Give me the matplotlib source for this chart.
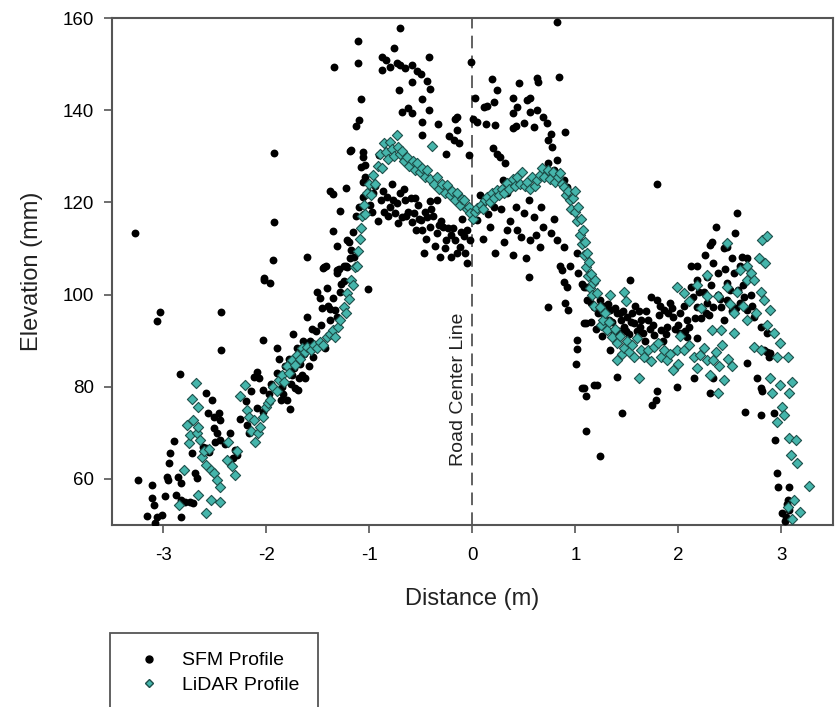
import matplotlib
matplotlib.use("Agg")
import matplotlib.pyplot as plt
from matplotlib.lines import Line2D
from matplotlib.patches import Rectangle

plt.rcParams["font.family"] = ["Liberation Sans", "DejaVu Sans"]
plt.rcParams["axes.unicode_minus"] = False

# SFM profile (black dots)
sfm_x = [
    -3.27, -3.24, -3.16, -3.11, -3.11, -3.09, -3.08, -3.06, -3.06, -3.03,
    -3.01, -2.98, -2.96, -2.95, -2.94, -2.93, -2.90, -2.88, -2.86, -2.84,
    -2.83, -2.83, -2.83, -2.79, -2.74, -2.72, -2.71, -2.69, -2.67, -2.61,
    -2.58, -2.58, -2.57, -2.56, -2.53, -2.51, -2.51, -2.50, -2.48, -2.46,
    -2.45, -2.45, -2.44, -2.44, -2.40, -2.35, -2.32, -2.30, -2.28, -2.25,
    -2.20, -2.19, -2.17, -2.15, -2.12, -2.09, -2.09, -2.07, -2.03, -2.03,
    -2.03, -2.02, -2.02, -2.00, -1.96, -1.95, -1.93, -1.92, -1.92, -1.90,
    -1.90, -1.86, -1.85, -1.82, -1.80, -1.78, -1.77, -1.75, -1.74, -1.72,
    -1.70, -1.69, -1.67, -1.65, -1.63, -1.62, -1.60, -1.60, -1.58, -1.55,
    -1.52, -1.51, -1.48, -1.47, -1.45, -1.44, -1.43, -1.42, -1.40, -1.38,
    -1.38, -1.38, -1.35, -1.35, -1.35, -1.34, -1.33, -1.31, -1.31, -1.31,
    -1.31, -1.29, -1.28, -1.28, -1.27, -1.25, -1.25, -1.23, -1.23, -1.22,
    -1.22, -1.20, -1.19, -1.19, -1.18, -1.18, -1.16, -1.15, -1.13, -1.13,
    -1.11, -1.11, -1.10, -1.10, -1.08, -1.08, -1.06, -1.06, -1.06, -1.06,
    -1.04, -1.04, -1.01, -1.01, -0.99, -0.96, -0.94, -0.91, -0.89, -0.88,
    -0.88, -0.86, -0.84, -0.83, -0.80, -0.80, -0.78, -0.76, -0.75, -0.73,
    -0.73, -0.71, -0.70, -0.70, -0.70, -0.68, -0.68, -0.66, -0.65, -0.65,
    -0.62, -0.62, -0.60, -0.59, -0.59, -0.59, -0.59, -0.57, -0.55, -0.54,
    -0.53, -0.50, -0.50, -0.49, -0.49, -0.49, -0.49, -0.47, -0.46, -0.44,
    -0.44, -0.42, -0.42, -0.41, -0.41, -0.41, -0.38, -0.34, -0.34, -0.33,
    -0.31, -0.30, -0.28, -0.26, -0.26, -0.24, -0.23, -0.21, -0.21, -0.18,
    -0.17, -0.17, -0.15, -0.15, -0.15, -0.13, -0.12, -0.10, -0.08, -0.05,
    -0.05, -0.03, -0.02, -0.01, 0.01, 0.01, 0.03, 0.05, 0.05, 0.07,
    0.10, 0.11, 0.13, 0.14, 0.15, 0.17, 0.19, 0.20, 0.21, 0.21,
    0.22, 0.22, 0.24, 0.24, 0.27, 0.28, 0.30, 0.31, 0.32, 0.34,
    0.34, 0.37, 0.39, 0.39, 0.39, 0.39, 0.42, 0.42, 0.43, 0.43,
    0.45, 0.47, 0.50, 0.50, 0.52, 0.53, 0.55, 0.55, 0.56, 0.56,
    0.56, 0.60, 0.60, 0.62, 0.63, 0.63, 0.64, 0.66, 0.67, 0.69,
    0.69, 0.72, 0.73, 0.73, 0.73, 0.76, 0.76, 0.77, 0.79, 0.79,
    0.82, 0.82, 0.82, 0.84, 0.85, 0.85, 0.87, 0.89, 0.89, 0.89,
    0.90, 0.90, 0.92, 0.92, 0.93, 0.95, 1.01, 1.02, 1.02, 1.02,
    1.03, 1.06, 1.06, 1.08, 1.08, 1.08, 1.10, 1.10, 1.10, 1.10,
    1.11, 1.15, 1.15, 1.18, 1.18, 1.21, 1.22, 1.24, 1.24, 1.26,
    1.27, 1.30, 1.32, 1.34, 1.34, 1.36, 1.37, 1.40, 1.40, 1.42,
    1.44, 1.45, 1.46, 1.47, 1.50, 1.52, 1.53, 1.55, 1.57, 1.60,
    1.62, 1.63, 1.66, 1.68, 1.70, 1.72, 1.73, 1.74, 1.76, 1.78,
    1.79, 1.79, 1.79, 1.81, 1.83, 1.85, 1.86, 1.89, 1.90, 1.92,
    1.95, 1.97, 1.99, 2.02, 2.02, 2.05, 2.08, 2.08, 2.10, 2.12,
    2.12, 2.14, 2.15, 2.18, 2.18, 2.18, 2.18, 2.22, 2.25, 2.26,
    2.28, 2.28, 2.30, 2.31, 2.31, 2.33, 2.34, 2.34, 2.34, 2.36,
    2.38, 2.38, 2.41, 2.44, 2.44, 2.47, 2.47, 2.47, 2.50, 2.52,
    2.54, 2.55, 2.56, 2.57, 2.60, 2.60, 2.62, 2.63, 2.65, 2.67,
    2.67, 2.67, 2.70, 2.73, 2.76, 2.80, 2.80, 2.80, 2.81, 2.83,
    2.86, 2.86, 2.88, 2.89, 2.93, 2.94, 2.96, 2.97, 3.01, 3.04,
    3.06, 3.07, 3.07, 3.03, 3.05,
    # extra points in the crowded parts
    -1.97, -1.88, -1.84, -1.76, -1.73, -1.68, -1.64, -1.59, -1.56, -1.50,
    -1.46, -1.41, -0.97, -0.92, -0.87, -0.82, -0.77, -0.72, -0.64, -0.56,
    -0.52, -0.45, -0.40, -0.36, -0.32, -0.27, -0.19, -0.11, -0.07, 1.20,
    1.28, 1.33, 1.38, 1.43, 1.49, 1.54, 1.58, 1.64, 1.69, 1.75,
    1.82, 1.88, 1.94, 2.00, 2.06, 2.16, 2.20, 2.27, 2.32, 2.40,
    2.45, 2.52, 2.58, 2.64, 2.71,
]
sfm_y = [
    113.4, 59.8, 52.0, 58.7, 55.8, 54.4, 50.5, 51.8, 94.3, 96.2,
    52.2, 56.2, 60.5, 59.7, 63.5, 65.6, 68.2, 56.5, 60.5, 82.8,
    59.2, 55.4, 51.8, 55.1, 55.1, 65.7, 54.7, 61.2, 60.1, 67.0,
    66.7, 78.7, 74.4, 65.9, 77.1, 73.5, 71.1, 68.1, 69.9, 74.2,
    72.8, 68.5, 96.2, 88.0, 67.5, 70.0, 64.5, 66.3, 65.2, 73.0,
    77.0, 71.7, 69.9, 79.0, 82.1, 83.3, 75.3, 81.8, 74.6, 79.3,
    90.2, 103.5, 103.2, 75.7, 102.6, 80.5, 107.6, 115.8, 130.7, 88.5,
    83.0, 77.1, 80.0, 84.5, 77.1, 86.0, 75.1, 82.5, 91.4, 79.7,
    88.5, 79.3, 85.0, 82.6, 87.0, 81.9, 95.1, 108.2, 90.0, 86.5,
    92.0, 100.6, 99.2, 93.5, 105.8, 106.0, 88.5, 106.1, 97.5, 96.8,
    94.5, 122.5, 121.8, 99.2, 113.9, 149.4, 96.7, 95.2, 110.5, 105.3,
    104.6, 105.5, 118.1, 100.5, 102.3, 106.1, 103.0, 123.1, 106.3, 111.8,
    106.0, 111.5, 107.9, 131.2, 109.7, 131.4, 113.5, 108.2, 136.6, 117.0,
    155.0, 150.3, 137.9, 119.0, 142.4, 127.7, 131.0, 129.9, 124.5, 121.2,
    128.1, 125.5, 122.3, 101.2, 119.5, 122.0, 123.5, 130.3, 120.5, 151.6,
    148.7, 118.0, 150.9, 121.2, 149.4, 119.1, 124.0, 153.4, 117.6, 150.2,
    119.8, 144.4, 157.8, 149.8, 122.0, 139.7, 116.9, 123.0, 149.1, 120.5,
    140.4, 118.0, 121.0, 149.8, 146.2, 139.3, 115.8, 117.6, 114.0, 148.4,
    119.5, 147.9, 116.2, 142.4, 137.5, 134.6, 114.0, 109.0, 118.0, 146.4,
    116.9, 151.6, 140.0, 144.7, 120.2, 114.7, 117.0, 120.5, 113.3, 137.0,
    108.2, 116.0, 114.7, 130.6, 111.8, 114.5, 134.3, 112.9, 108.2, 133.5,
    138.0, 111.8, 138.6, 135.6, 109.0, 132.8, 110.4, 116.5, 112.6, 114.0,
    106.8, 130.3, 111.8, 150.5, 117.6, 138.2, 142.6, 116.2, 137.5, 121.5,
    112.0, 140.8, 137.0, 140.9, 117.5, 114.7, 146.7, 131.7, 141.8, 119.1,
    136.8, 109.0, 144.4, 130.6, 129.9, 118.5, 124.9, 111.5, 128.5, 122.0,
    114.0, 116.0, 142.6, 139.3, 136.1, 108.6, 136.6, 119.1, 140.8, 114.0,
    145.8, 112.5, 137.2, 117.6, 108.0, 142.2, 120.5, 103.8, 142.6, 139.7,
    111.8, 136.4, 116.9, 113.0, 146.9, 140.0, 146.2, 110.4, 119.0, 138.6,
    114.7, 137.2, 133.5, 128.5, 97.4, 134.9, 113.3, 132.1, 127.0, 116.5,
    129.2, 111.8, 159.2, 147.3, 126.3, 106.1, 105.3, 124.9, 110.4, 102.8,
    135.3, 98.1, 123.4, 101.7, 96.7, 106.1, 84.9, 109.0, 90.2, 88.1,
    104.6, 102.4, 79.7, 101.7, 93.8, 79.7, 101.7, 93.8, 77.9, 70.3,
    98.8, 98.1, 94.1, 97.4, 80.4, 80.4, 96.0, 98.8, 65.0, 91.0,
    95.9, 93.5, 98.0, 96.7, 88.0, 94.0, 91.6, 95.9, 82.2, 92.0,
    94.5, 74.4, 96.5, 93.0, 95.2, 91.5, 103.2, 96.0, 93.8, 92.0,
    96.5, 93.0, 91.6, 90.0, 94.5, 92.5, 99.5, 76.1, 91.2, 77.1,
    98.8, 79.0, 123.9, 95.5, 92.3, 90.0, 96.7, 93.0, 96.0, 98.1,
    95.2, 92.5, 80.0, 95.9, 91.6, 97.5, 94.5, 90.9, 93.0, 101.7,
    106.1, 99.5, 81.8, 103.2, 106.2, 97.4, 90.5, 95.0, 100.5, 108.6,
    103.9, 98.1, 95.5, 110.8, 78.6, 111.5, 106.8, 97.4, 81.8, 114.7,
    104.6, 100.0, 97.4, 110.0, 94.5, 110.4, 102.5, 98.8, 101.0, 107.9,
    104.6, 113.4, 97.0, 117.6, 106.1, 98.1, 108.2, 102.0, 74.6, 107.9,
    96.7, 85.1, 100.0, 95.2, 81.8, 93.0, 79.7, 73.9, 79.0, 88.0,
    91.6, 87.6, 86.5, 87.3, 74.2, 68.5, 61.2, 58.3, 52.6, 51.8,
    55.4, 58.3, 53.3, 50.8, 54.5,
    # extra points in the crowded parts
    78.5, 86.0, 78.5, 80.5, 84.0, 82.0, 90.0, 84.5, 92.5, 89.0,
    97.0, 101.5, 118.0, 116.0, 122.5, 117.0, 120.5, 115.5, 117.0, 121.0,
    116.5, 112.0, 118.5, 110.5, 115.0, 110.0, 114.5, 113.5, 109.0, 92.5,
    97.5, 94.5, 97.0, 96.0, 92.0, 94.0, 97.5, 94.5, 96.5, 93.5,
    97.5, 91.5, 97.0, 93.5, 92.0, 95.0, 100.5, 96.0, 102.0, 99.0,
    105.5, 96.5, 101.0, 99.5, 97.5,
]

# LiDAR profile (teal diamonds)
lidar_x = [
    -2.85, -2.80, -2.77, -2.75, -2.74, -2.72, -2.71, -2.68, -2.67, -2.66,
    -2.66, -2.66, -2.64, -2.62, -2.60, -2.58, -2.58, -2.56, -2.54, -2.54,
    -2.51, -2.48, -2.45, -2.45, -2.38, -2.37, -2.33, -2.30, -2.28, -2.25,
    -2.21, -2.19, -2.17, -2.15, -2.12, -2.11, -2.08, -2.06, -2.03, -2.00,
    -1.98, -1.96, -1.93, -1.90, -1.88, -1.85, -1.83, -1.80, -1.78, -1.75,
    -1.72, -1.70, -1.67, -1.65, -1.62, -1.60, -1.57, -1.54, -1.51, -1.48,
    -1.45, -1.41, -1.38, -1.35, -1.33, -1.30, -1.28, -1.25, -1.23, -1.22,
    -1.20, -1.18, -1.16, -1.14, -1.12, -1.11, -1.09, -1.08, -1.07, -1.05,
    -1.04, -1.02, -1.00, -0.98, -0.96, -0.94, -0.92, -0.90, -0.88, -0.86,
    -0.84, -0.82, -0.80, -0.78, -0.76, -0.73, -0.72, -0.70, -0.68, -0.66,
    -0.63, -0.61, -0.58, -0.56, -0.54, -0.51, -0.49, -0.46, -0.44, -0.41,
    -0.39, -0.37, -0.34, -0.32, -0.29, -0.27, -0.25, -0.22, -0.20, -0.17,
    -0.15, -0.12, -0.10, -0.08, -0.05, -0.03, -0.02, 0.01, 0.03, 0.05,
    0.08, 0.10, 0.12, 0.14, 0.17, 0.19, 0.21, 0.24, 0.26, 0.29,
    0.31, 0.34, 0.36, 0.39, 0.41, 0.43, 0.46, 0.48, 0.51, 0.53,
    0.56, 0.58, 0.61, 0.63, 0.66, 0.68, 0.70, 0.73, 0.75, 0.78,
    0.80, 0.83, 0.85, 0.87, 0.89, 0.91, 0.93, 0.95, 0.96, 0.98,
    1.00, 1.00, 1.02, 1.03, 1.04, 1.05, 1.06, 1.07, 1.08, 1.09,
    1.10, 1.11, 1.12, 1.13, 1.14, 1.15, 1.16, 1.17, 1.18, 1.19,
    1.21, 1.24, 1.25, 1.27, 1.29, 1.31, 1.33, 1.34, 1.36, 1.38,
    1.40, 1.40, 1.43, 1.45, 1.47, 1.47, 1.49, 1.50, 1.52, 1.55,
    1.57, 1.60, 1.62, 1.64, 1.67, 1.70, 1.73, 1.76, 1.80, 1.83,
    1.86, 1.89, 1.92, 1.95, 1.99, 1.99, 2.00, 2.02, 2.05, 2.05,
    2.10, 2.10, 2.15, 2.18, 2.18, 2.21, 2.22, 2.25, 2.28, 2.28,
    2.28, 2.31, 2.33, 2.34, 2.36, 2.38, 2.38, 2.39, 2.41, 2.42,
    2.44, 2.47, 2.47, 2.48, 2.50, 2.52, 2.54, 2.54, 2.57, 2.60,
    2.63, 2.67, 2.67, 2.67, 2.70, 2.73, 2.73, 2.75, 2.78, 2.80,
    2.80, 2.81, 2.83, 2.84, 2.86, 2.86, 2.89, 2.89, 2.91, 2.93,
    2.96, 2.96, 2.99, 2.99, 3.01, 3.02, 3.06, 3.06, 3.07, 3.07,
    3.09, 3.10, 3.10, 3.12, 3.14, 3.15, 3.18, 3.27,
]
lidar_y = [
    54.4, 62.0, 71.7, 67.7, 69.5, 77.3, 72.8, 80.8, 69.9, 75.7,
    71.3, 56.5, 68.5, 64.8, 66.0, 63.0, 52.6, 66.5, 62.0, 55.4,
    61.2, 59.8, 58.3, 54.9, 64.1, 68.1, 62.7, 60.9, 66.0, 77.9,
    80.4, 75.0, 73.5, 70.5, 72.8, 68.1, 70.0, 71.3, 73.5, 75.7,
    76.5, 77.1, 80.0, 79.0, 81.5, 82.6, 81.0, 84.4, 83.0, 85.8,
    84.8, 86.9, 86.0, 88.4, 87.5, 88.7, 87.9, 89.1, 88.5, 89.8,
    89.0, 90.9, 91.5, 92.3, 90.9, 93.0, 94.5, 97.4, 96.0, 100.3,
    99.0, 103.2, 102.0, 106.0, 106.1, 109.5, 112.0, 114.5, 117.0, 119.5,
    117.5, 122.0, 124.0, 121.5, 126.0, 124.0, 128.0, 130.5, 127.5, 132.8,
    131.0, 129.5, 133.0, 131.5, 130.0, 134.6, 132.0, 130.5, 131.2, 129.0,
    129.9, 128.0, 129.0, 127.0, 128.5, 126.5, 127.5, 125.5, 127.0, 125.0,
    132.3, 124.0, 125.6, 123.0, 124.0, 122.0, 123.8, 121.5, 122.5, 120.5,
    122.0, 119.5, 120.8, 120.5, 118.5, 119.0, 117.6, 116.5, 118.0, 118.7,
    119.5, 118.5, 120.5, 121.2, 120.0, 122.0, 121.0, 122.7, 121.5, 123.0,
    122.0, 124.1, 123.0, 125.0, 123.5, 125.6, 124.0, 126.5, 123.5, 124.5,
    123.0, 125.5, 123.5, 124.9, 126.0, 127.5, 125.5, 127.0, 125.0, 126.5,
    124.5, 125.5, 126.3, 124.0, 123.4, 121.5, 122.5, 120.5, 118.5, 121.0,
    118.0, 122.5, 116.0, 119.0, 113.0, 116.5, 111.0, 114.0, 108.5, 111.5,
    106.0, 109.0, 104.0, 107.0, 101.5, 104.5, 100.0, 102.5, 97.5, 103.2,
    100.3, 97.4, 93.5, 94.5, 96.0, 92.3, 94.0, 99.9, 90.9, 92.5,
    89.4, 85.8, 91.0, 87.0, 88.4, 100.6, 98.5, 90.0, 87.5, 89.0,
    86.5, 90.5, 81.8, 88.0, 86.5, 88.0, 85.5, 88.7, 89.5, 86.5,
    88.0, 85.8, 87.0, 83.6, 88.0, 101.7, 85.0, 91.0, 88.0, 100.3,
    89.0, 98.5, 86.5, 84.0, 102.1, 86.9, 97.0, 88.5, 85.8, 99.6,
    104.3, 82.5, 92.3, 85.8, 87.5, 99.6, 78.6, 84.4, 92.3, 89.0,
    81.5, 101.7, 111.1, 86.0, 98.0, 84.5, 95.9, 91.6, 100.5, 105.3,
    97.5, 103.2, 94.5, 106.1, 104.6, 103.2, 88.7, 96.0, 107.9, 100.6,
    88.0, 111.8, 98.8, 106.8, 112.6, 93.5, 96.7, 81.8, 78.6, 91.6,
    86.5, 72.4, 89.4, 80.4, 75.7, 73.9, 86.5, 54.0, 78.6, 68.8,
    65.2, 81.1, 51.4, 55.4, 68.5, 63.4, 52.9, 58.5,
]

x_ticks = [-3, -2, -1, 0, 1, 2, 3]
y_ticks = [60, 80, 100, 120, 140, 160]

DPI = 100
FRAME = "#555555"
TEAL = "#45b5ab"
TEAL_EDGE = "#1d4f4a"

fig = plt.figure(figsize=(8.36, 7.07), dpi=DPI)
ax = fig.add_axes([0.1336, 0.2574, 0.8628, 0.7171])

ax.scatter(sfm_x, sfm_y, s=32, c="black", marker="o", linewidths=0, zorder=3)
ax.scatter(lidar_x, lidar_y, s=27, c=TEAL, marker="D",
           edgecolors=TEAL_EDGE, linewidths=0.8, zorder=4)

ax.axvline(0, color="#555555", lw=1.3, ls=(0, (7, 4)), zorder=2)
ax.text(-0.13, 79.5, "Road Center Line", rotation=90, ha="center", va="center",
        fontsize=14, color="#222222")

ax.set_xlim(-3.5, 3.5)
ax.set_ylim(50, 160)
ax.set_xticks(x_ticks)
ax.set_yticks(y_ticks)
ax.tick_params(direction="out", length=5.5, width=1.2, color=FRAME,
               labelsize=13.5)
ax.tick_params(axis="x", pad=10)
ax.tick_params(axis="y", pad=7)
for sp in ax.spines.values():
    sp.set_color(FRAME)
    sp.set_linewidth(1.5)

ax.set_xlabel("Distance (m)", fontsize=17, color="#222222")
ax.set_ylabel("Elevation (mm)", fontsize=17, color="#222222")
ax.xaxis.set_label_coords(0.5, -0.125)
ax.yaxis.set_label_coords(-0.095, 0.5)

# legend box, its bottom runs off the figure like in the original
fig.patches.append(Rectangle((110 / 836, -0.05), 208 / 836, 0.05 + 1 - 633 / 707,
                             transform=fig.transFigure, fill=False,
                             edgecolor=FRAME, lw=1.3))
handles = [
    Line2D([], [], ls="none", marker="o", color="black", markersize=5),
    Line2D([], [], ls="none", marker="D", markerfacecolor=TEAL,
           markeredgecolor=TEAL_EDGE, markersize=4.5),
]
fig.legend(handles, ["SFM Profile", "LiDAR Profile"], loc="upper left",
           bbox_to_anchor=(0.1572, 0.0891), frameon=False, fontsize=14,
           handlelength=1.0, handletextpad=1.2, labelspacing=0.36,
           borderaxespad=0)

fig.savefig("out.png", dpi=DPI)
plt.close(fig)
